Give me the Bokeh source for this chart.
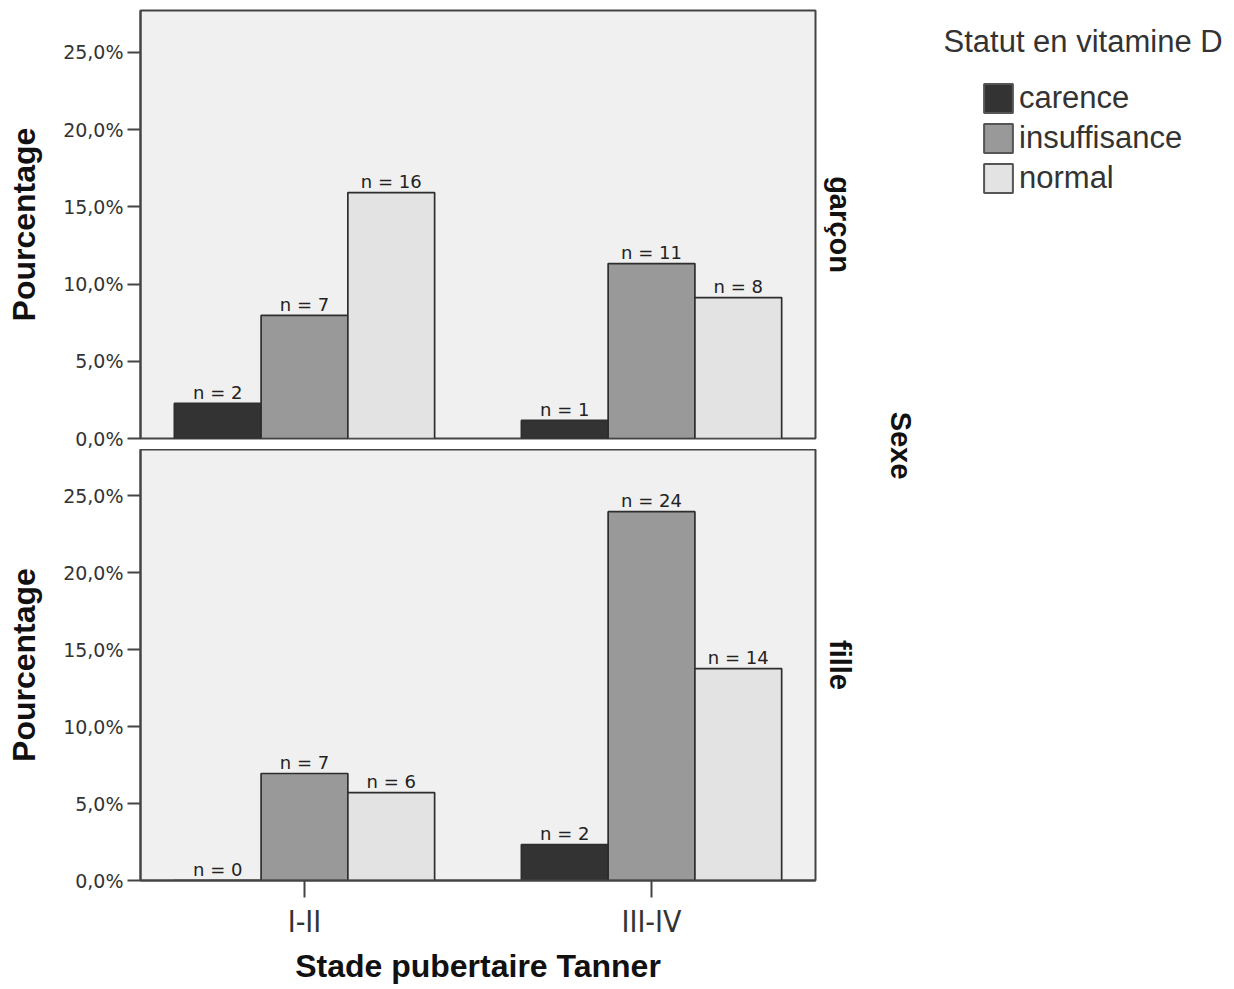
import math
from bokeh.plotting import figure
from bokeh.models import (FactorRange, Range1d, CustomJSTickFormatter, ColumnDataSource,
                          Title, Legend, LegendItem)
from bokeh.transform import dodge
from bokeh.layouts import column, row
from bokeh.core.properties import value
from bokeh.embed import file_html
from bokeh.resources import INLINE

# ---------------- data ----------------
stages = ["I-II", "III-IV"]
statuts = ["carence", "insuffisance", "normal"]
colors = ["#333333", "#999999", "#e3e3e3"]
sexes = ["garçon", "fille"]
y_ticks = [0, 5, 10, 15, 20, 25]

garcon_carence = [2.27, 1.17]
garcon_insuffisance = [7.97, 11.33]
garcon_normal = [15.93, 9.13]
garcon_n_carence = [2, 1]
garcon_n_insuffisance = [7, 11]
garcon_n_normal = [16, 8]

fille_carence = [0.0, 2.34]
fille_insuffisance = [6.95, 23.96]
fille_normal = [5.71, 13.77]
fille_n_carence = [0, 2]
fille_n_insuffisance = [7, 24]
fille_n_normal = [6, 14]

SANS = "Liberation Sans"
TICKF = "DejaVu Sans"
NARROW = "Liberation Sans Narrow, DejaVu Sans Condensed, sans-serif"
FRAME_C = "#444444"


def make_panel(pcts, ns, y_end, fh, sexe, bottom):
    p = figure(x_range=FactorRange(factors=stages, range_padding=-0.0275),
               y_range=Range1d(0, y_end),
               frame_width=675, frame_height=fh,
               output_backend="svg", toolbar_location=None, tools="",
               x_axis_location="below" if bottom else None,
               min_border_left=140, min_border_right=50,
               min_border_top=0 if bottom else 10,
               min_border_bottom=100 if bottom else 11,
               background_fill_color="#f0f0f0", border_fill_color="white")
    p.xgrid.visible = False
    p.ygrid.visible = False
    p.outline_line_color = FRAME_C
    p.outline_line_width = 2

    data = dict(stage=stages)
    for s, v, n in zip(statuts, pcts, ns):
        data[s] = v
        data[s + "_lbl"] = [f"n = {k}" for k in n]
    src = ColumnDataSource(data)
    offsets = [-0.25, 0.0, 0.25]
    for s, c, off in zip(statuts, colors, offsets):
        p.vbar(x=dodge("stage", off, range=p.x_range), top=s, width=0.25, source=src,
               fill_color=c, line_color="#2e2e2e", line_width=1.7)
        p.text(x=dodge("stage", off, range=p.x_range), y=s, text=s + "_lbl", source=src,
               text_align="center", text_baseline="alphabetic", y_offset=-11,
               text_font=value(TICKF), text_font_size="18px", text_color="#222222")

    ya = p.yaxis[0]
    ya.ticker = y_ticks
    ya.formatter = CustomJSTickFormatter(code="return tick.toFixed(1).replace('.', ',') + '%';")
    ya.axis_label = "Pourcentage"
    ya.axis_label_text_font = SANS
    ya.axis_label_text_font_style = "bold"
    ya.axis_label_text_font_size = "32px"
    ya.axis_label_text_color = "#111111"
    ya.axis_label_standoff = 18
    ya.major_label_text_font = TICKF
    ya.major_label_text_font_size = "19px"
    ya.major_label_text_color = "#333333"
    ya.major_label_standoff = 4
    ya.major_tick_out = 13
    ya.major_tick_in = 0
    ya.minor_tick_out = 0
    ya.minor_tick_in = 0
    ya.major_tick_line_color = FRAME_C
    ya.major_tick_line_width = 2
    ya.axis_line_color = FRAME_C
    ya.axis_line_width = 2

    if bottom:
        xa = p.xaxis[0]
        xa.axis_label = "Stade pubertaire Tanner"
        xa.axis_label_text_font = SANS
        xa.axis_label_text_font_style = "bold"
        xa.axis_label_text_font_size = "32px"
        xa.axis_label_text_color = "#111111"
        xa.axis_label_standoff = 6
        xa.major_label_text_font = NARROW
        xa.major_label_text_font_size = "30px"
        xa.major_label_text_color = "#333333"
        xa.major_label_standoff = 6
        xa.major_tick_out = 17
        xa.major_tick_in = 0
        xa.major_tick_line_color = FRAME_C
        xa.major_tick_line_width = 2
        xa.axis_line_color = FRAME_C
        xa.axis_line_width = 2

    p.add_layout(Title(text=sexe, align="center", text_font=SANS, text_font_style="bold",
                       text_font_size="29px", text_color="#111111", standoff=16), "right")
    return p


p1 = make_panel([garcon_carence, garcon_insuffisance, garcon_normal],
                [garcon_n_carence, garcon_n_insuffisance, garcon_n_normal],
                27.72, 428, sexes[0], False)
p2 = make_panel([fille_carence, fille_insuffisance, fille_normal],
                [fille_n_carence, fille_n_insuffisance, fille_n_normal],
                28.0, 431, sexes[1], True)

W3 = 360
H = 449 + 431 + 100
p3 = figure(width=W3, height=H, x_range=Range1d(0, W3), y_range=Range1d(H, 0),
            toolbar_location=None, tools="", output_backend="svg", min_border=0,
            x_axis_location=None, y_axis_location=None, outline_line_color=None)
p3.xgrid.visible = False
p3.ygrid.visible = False

p3.text(x=[35], y=[445], text=["Sexe"], angle=-math.pi / 2, text_align="center",
        text_baseline="middle", text_font=value(SANS), text_font_style="bold",
        text_font_size="29px", text_color="#111111")
p3.text(x=[78], y=[41], text=["Statut en vitamine D"], text_align="left",
        text_baseline="middle", text_font=value(SANS), text_font_size="31px",
        text_color="#333333")

items = []
for s, c in zip(statuts, colors):
    r = p3.vbar(x=[0], top=[0], width=0, fill_color=c, line_color="#555555",
                line_width=2, visible=False)
    items.append(LegendItem(label=s, renderers=[r]))
legend = Legend(items=items, location=(115, H - 196), glyph_width=36, glyph_height=36,
                label_height=36, label_text_font=SANS, label_text_font_size="31px",
                label_text_color="#333333", label_standoff=3, spacing=4, padding=0,
                margin=0, border_line_color=None, background_fill_alpha=0)
p3.add_layout(legend, "center")

layout = row(column(p1, p2), p3)
open("out.html", "w").write(file_html(layout, INLINE))
